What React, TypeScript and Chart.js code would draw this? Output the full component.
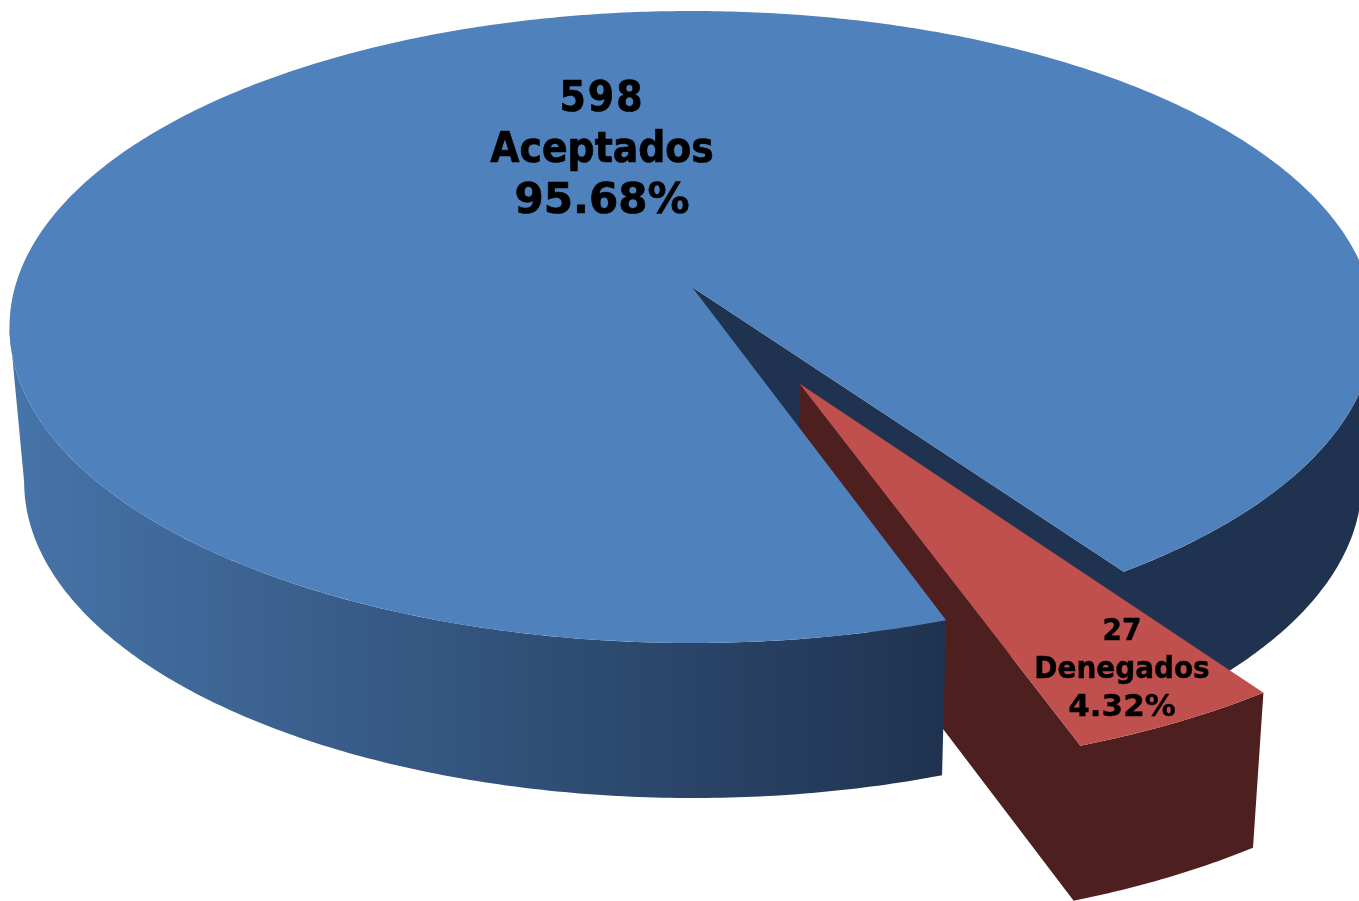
import React, { useEffect, useRef } from "react";
import { Chart, registerables } from "chart.js";

Chart.register(...registerables);

const categories = ["Aceptados", "Denegados"];
const counts = [598, 27];

const W = 1359;
const H = 901;
const ROTATION_DEG = 160.7;
const EXPLODE = [0, 0.336];
const TOP_COLORS = ["#4f81bd", "#c0504d"];
const WALL_DARK = ["#1f3350", "#4d1f1e"];
const LABEL_STYLE = [
  { x: 602, y: 100, size: 42, gap: 51, bold: 0.7, countSpacing: "2px" },
  { x: 1122, y: 632, size: 31, gap: 38, bold: 0.4, countSpacing: "0px" },
];
const FONT_NARROW = '"DejaVu Sans Condensed", "DejaVu Sans", sans-serif';
const FONT_WIDE = '"DejaVu Sans", sans-serif';

// Perspective view of the pie's plane: unit-circle coordinates to pixels.
const CX = 692;
const CY = 287;
const AX = 677;
const AY = 274.6;
const PERSP = -0.1266;
const DEPTH = 155;
const BASE_SCALE = 0.98;

type P = [number, number];
const project = (u: number, v: number, base: boolean): P => {
  const w = 1 + PERSP * v;
  const x = CX + (AX * u) / w;
  const y = (CY + AY * v) / w;
  if (!base) return [x, y];
  return [CX + 1 + (x - CX) * BASE_SCALE, y + DEPTH];
};

const arcPts = (a0: number, a1: number, ox: number, oy: number, base: boolean): P[] => {
  const n = Math.max(2, Math.ceil(Math.abs(a1 - a0) / 0.01));
  const pts: P[] = [];
  for (let i = 0; i <= n; i++) {
    const a = a0 + ((a1 - a0) * i) / n;
    pts.push(project(ox + Math.cos(a), oy + Math.sin(a), base));
  }
  return pts;
};

const fillPoly = (ctx: CanvasRenderingContext2D, pts: P[], fill: string | CanvasGradient) => {
  ctx.beginPath();
  pts.forEach((p, i) => (i ? ctx.lineTo(p[0], p[1]) : ctx.moveTo(p[0], p[1])));
  ctx.closePath();
  ctx.fillStyle = fill;
  ctx.fill();
};

// Angle of the silhouette's side edges in the perspective view.
const SIDE = Math.asin(-PERSP);

const pie3d = {
  id: "pie3d",
  beforeDatasetDraw(chart: any) {
    const ctx: CanvasRenderingContext2D = chart.ctx;
    const [blue, red] = chart.getDatasetMeta(0).data;

    const mid = (red.startAngle + red.endAngle) / 2;
    const ox = EXPLODE[1] * Math.cos(mid);
    const oy = EXPLODE[1] * Math.sin(mid);

    // Blue wedge: dark cut face and right wall, seen through the gap
    const bs = blue.startAngle;
    const be = blue.endAngle;
    const rightStart = 2 * Math.PI + SIDE;
    fillPoly(
      ctx,
      [
        project(0, 0, false),
        project(0, 0, true),
        ...arcPts(be, rightStart, 0, 0, true),
        ...arcPts(rightStart, be, 0, 0, false),
      ],
      WALL_DARK[0],
    );

    // Exploded red slice: inner face and outer wall as one shape, then its top
    const rs = red.startAngle;
    const re = red.endAngle;
    fillPoly(
      ctx,
      [
        project(ox, oy, false),
        project(ox, oy, true),
        ...arcPts(re, rs, ox, oy, true),
        ...arcPts(rs, re, ox, oy, false),
      ],
      WALL_DARK[1],
    );
    fillPoly(ctx, [project(ox, oy, false), ...arcPts(rs, re, ox, oy, false)], TOP_COLORS[1]);

    // Blue front wall with left-to-right shading, then blue top
    const grad = ctx.createLinearGradient(20, 0, 943, 0);
    grad.addColorStop(0, "#4673a8");
    grad.addColorStop(1, WALL_DARK[0]);
    const leftEnd = Math.PI - SIDE;
    fillPoly(ctx, [...arcPts(bs, leftEnd, 0, 0, false), ...arcPts(leftEnd, bs, 0, 0, true)], grad);
    fillPoly(ctx, [project(0, 0, false), ...arcPts(bs, be, 0, 0, false)], TOP_COLORS[0]);

    return false;
  },
  afterDatasetsDraw(chart: any) {
    const ctx: CanvasRenderingContext2D = chart.ctx;
    const total = counts.reduce((a, b) => a + b, 0);
    ctx.save();
    ctx.fillStyle = "#000";
    ctx.strokeStyle = "#000";
    ctx.textAlign = "center";
    ctx.textBaseline = "middle";
    ctx.lineJoin = "round";
    categories.forEach((name, i) => {
      const s = LABEL_STYLE[i];
      ctx.lineWidth = s.bold;
      const lines = [
        { t: String(counts[i]), f: FONT_NARROW, sp: s.countSpacing },
        { t: name, f: FONT_NARROW, sp: "0px" },
        { t: `${((counts[i] / total) * 100).toFixed(2)}%`, f: FONT_WIDE, sp: "0px" },
      ];
      lines.forEach((l, j) => {
        ctx.font = `bold ${s.size}px ${l.f}`;
        (ctx as any).letterSpacing = l.sp;
        ctx.fillText(l.t, s.x, s.y + j * s.gap);
        ctx.strokeText(l.t, s.x, s.y + j * s.gap);
      });
    });
    ctx.restore();
  },
};

export default function App() {
  const ref = useRef<HTMLCanvasElement>(null);
  useEffect(() => {
    const chart = new Chart(ref.current!, {
      type: "pie",
      data: {
        labels: categories,
        datasets: [{ data: counts, backgroundColor: TOP_COLORS, borderWidth: 0 }],
      },
      options: {
        animation: false,
        responsive: false,
        devicePixelRatio: 1,
        rotation: ROTATION_DEG,
        plugins: { legend: { display: false }, tooltip: { enabled: false } },
      },
      plugins: [pie3d],
    } as any);
    return () => chart.destroy();
  }, []);
  return (
    <div style={{ position: "absolute", left: 0, top: 0, width: W, height: H, overflow: "hidden", background: "#fff" }}>
      <canvas ref={ref} width={W} height={H} style={{ display: "block" }} />
    </div>
  );
}
